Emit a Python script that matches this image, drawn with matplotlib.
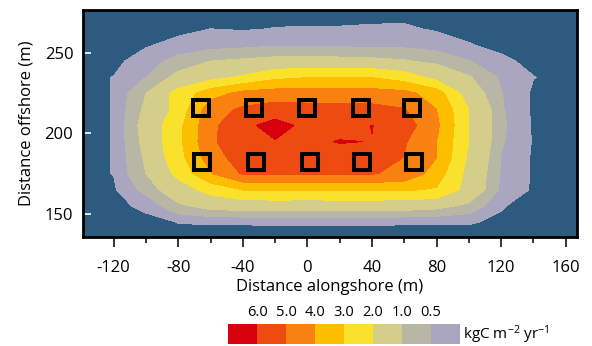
import numpy as np
import matplotlib.pyplot as plt

plt.rcParams['font.family'] = ['Open Sans', 'DejaVu Sans']
plt.rcParams['mathtext.default'] = 'regular'
plt.rcParams['axes.unicode_minus'] = False

# grid nodes (m)
along = [-140, -120, -100, -80, -60, -40, -20, 0, 20, 40, 60, 80, 100, 120, 140, 160, 180]
offshore = [135, 145, 155, 165, 175, 185, 195, 205, 215, 225, 235, 245, 255, 265, 275]

# production (kgC m-2 yr-1), one row per offshore node
flux = [
    [0, 0, 0, 0, 0, 0, 0, 0, 0, 0, 0, 0, 0, 0, 0, 0, 0],
    [0, 0, 0, 0.11, 0.12, 0.12, 0.13, 0.13, 0.13, 0.13, 0.12, 0.12, 0.12, 0.06, 0, 0, 0],
    [0, 0, 0.18, 0.88, 1.25, 1.35, 1.38, 1.37, 1.38, 1.38, 1.33, 1.2, 0.85, 0.12, 0, 0, 0],
    [0, 0.05, 0.65, 1.5, 2.35, 3.02, 3.1, 3.05, 3.1, 3.1, 3.1, 2.9, 1.6, 0.4, 0.05, 0, 0],
    [0, 0.11, 1.0, 2.25, 3.92, 5.1, 5.08, 5.05, 5.06, 5.05, 4.8, 3.5, 1.66, 0.45, 0.05, 0, 0],
    [0, 0.11, 1.1, 2.6, 4.5, 5.5, 5.7, 5.6, 5.65, 5.6, 4.97, 4.0, 1.83, 0.48, 0.05, 0, 0],
    [0, 0.11, 1.22, 2.75, 4.8, 5.8, 5.95, 5.8, 6.05, 5.98, 5.1, 4.0, 2.0, 0.55, 0.07, 0, 0],
    [0, 0.11, 1.3, 2.7, 4.75, 5.75, 6.35, 5.75, 5.6, 6.02, 5.5, 4.2, 2.0, 0.6, 0.05, 0, 0],
    [0, 0.11, 1.13, 2.3, 4.6, 5.15, 5.45, 5.35, 5.35, 5.3, 5.05, 4.0, 2.0, 0.55, 0.04, 0, 0],
    [0, 0.11, 1.0, 2.35, 3.55, 4.3, 4.45, 4.45, 4.45, 4.42, 4.3, 3.5, 1.45, 0.52, 0.04, 0, 0],
    [0, 0.11, 0.5, 1.19, 1.65, 2.12, 2.75, 2.95, 2.97, 2.95, 2.5, 1.65, 1.05, 0.42, 0.11, 0, 0],
    [0, 0, 0.29, 0.67, 1.0, 1.1, 1.2, 1.22, 1.2, 1.15, 1.05, 0.84, 0.52, 0.18, 0, 0, 0],
    [0, 0, 0.06, 0.22, 0.3, 0.36, 0.45, 0.41, 0.4, 0.4, 0.38, 0.3, 0.12, 0, 0, 0, 0],
    [0, 0, 0, 0, 0.1, 0.07, 0.11, 0.12, 0.12, 0.14, 0.15, 0.06, 0, 0, 0, 0, 0],
    [0, 0, 0, 0, 0, 0, 0, 0, 0, 0, 0, 0, 0, 0, 0, 0, 0],
]

# sampling squares
top_x = [-66, -33, 0, 33, 65]
top_y = [216, 216, 216, 216, 216]
bot_x = [-65, -32, 1.5, 34, 66]
bot_y = [182, 182, 182, 182, 182]

levels = [0.1, 0.5, 1.0, 2.0, 3.0, 4.0, 5.0, 6.0, 10.0]
level_labels = ['6.0', '5.0', '4.0', '3.0', '2.0', '1.0', '0.5']
colors = ['#aaa6c0', '#b8b6a5', '#d4ce8a', '#fae12b', '#fdbe00',
          '#f8810f', '#ee4b10', '#d9000e']
sea = '#2d5b7f'

fig = plt.figure(figsize=(5.92, 3.46), dpi=100)
ax = fig.add_axes([83/592, 1 - 237/346, 494/592, 227/346])
ax.set_facecolor(sea)
ax.contourf(along, offshore, np.array(flux), levels=levels, colors=colors)

ax.plot(top_x, top_y, 's', ms=12.2, mfc='none', mec='black', mew=2.9)
ax.plot(bot_x, bot_y, 's', ms=12.2, mfc='none', mec='black', mew=2.9)

ax.set_xlim(-139, 167)
ax.set_ylim(135.7, 276.7)
ax.set_xticks(np.arange(-120, 161, 40))
ax.set_xticks(np.arange(-100, 141, 40), minor=True)
ax.set_yticks([150, 200, 250])
ax.tick_params(axis='x', which='major', direction='out', length=7.5, width=1.1,
               pad=9, labelsize=12)
ax.tick_params(axis='x', which='minor', direction='out', length=4.5, width=1.1)
ax.tick_params(axis='y', direction='in', length=6, width=1.2, color='white',
               pad=7, labelsize=12)
for s in ax.spines.values():
    s.set_linewidth(2)
    s.set_color('black')
ax.set_xlabel('Distance alongshore (m)', fontsize=12, labelpad=2)
ax.set_ylabel('Distance offshore (m)', fontsize=12, labelpad=7)

# legend strip
lax = fig.add_axes([228/592, 2/346, 232/592, 20/346])
lax.bar(np.arange(8) + 0.5, 1, width=1, color=colors[::-1])
lax.set_xlim(0, 8)
lax.set_ylim(0, 1)
lax.set_yticks([])
lax.set_xticks(np.arange(1, 8))
lax.set_xticklabels(level_labels)
lax.xaxis.tick_top()
lax.tick_params(axis='x', length=0, pad=3, labelsize=10.5)
for s in lax.spines.values():
    s.set_visible(False)
fig.text(463/592, 1 - 335/346, r'kgC m$^{-2}$ yr$^{-1}$', fontsize=11, va='center')

fig.savefig('out.png', dpi=100)
